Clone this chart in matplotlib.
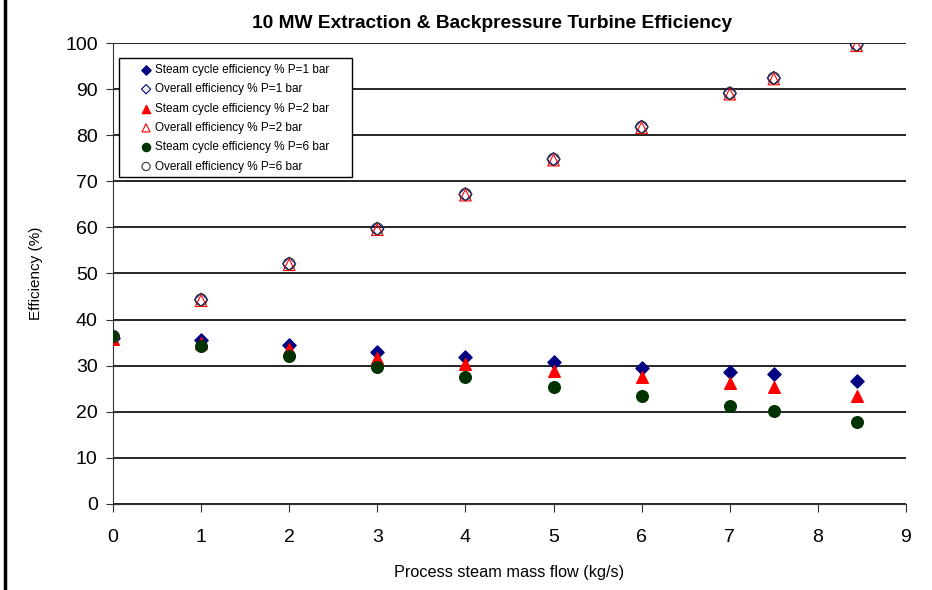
import numpy as np
import matplotlib.pyplot as plt
from matplotlib.lines import Line2D
from matplotlib.patches import Rectangle

plt.rcParams['font.family'] = ['Liberation Sans', 'DejaVu Sans']

flow = [0, 1, 2, 3, 4, 5, 6, 7, 7.5, 8.44]

steam_1bar = [36.0, 35.6, 34.4, 33.0, 31.9, 30.7, 29.6, 28.6, 28.1, 26.7]
steam_2bar = [35.8, 35.0, 33.6, 31.6, 30.3, 28.9, 27.5, 26.2, 25.3, 23.4]
steam_6bar = [36.4, 34.3, 32.1, 29.8, 27.6, 25.4, 23.4, 21.3, 20.2, 17.7]

overall_1bar = [36.0, 44.3, 52.1, 59.7, 67.2, 74.8, 81.8, 89.1, 92.4, 99.6]
overall_2bar = [35.8, 44.1, 51.9, 59.5, 67.0, 74.6, 81.6, 88.9, 92.2, 99.4]
overall_6bar = [36.4, 44.3, 52.1, 59.7, 67.2, 74.8, 81.8, 89.1, 92.4, 99.6]

fig = plt.figure(figsize=(9.32, 5.9), dpi=100)
ax = fig.add_axes([0.1212, 0.1458, 0.8509, 0.7813])

ax.scatter(flow, steam_1bar, marker='D', s=45, color='#000080', label='Steam cycle efficiency % P=1 bar', zorder=3)
ax.scatter(flow, overall_1bar, marker='D', s=45, facecolor='none', edgecolor='#000080', linewidth=0.8,
           label='Overall efficiency % P=1 bar', zorder=3)
ax.scatter(flow, steam_2bar, marker='^', s=70, color='#ff0000', label='Steam cycle efficiency % P=2 bar', zorder=3)
ax.scatter(flow, overall_2bar, marker='^', s=70, facecolor='none', edgecolor='#ff0000', linewidth=0.8,
           label='Overall efficiency % P=2 bar', zorder=3)
ax.scatter(flow, steam_6bar, marker='o', s=70, color='#003300', label='Steam cycle efficiency % P=6 bar', zorder=3)
ax.scatter(flow, overall_6bar, marker='o', s=70, facecolor='none', edgecolor='#333333', linewidth=0.8,
           label='Overall efficiency % P=6 bar', zorder=3)

ax.set_xlim(0, 9)
ax.set_ylim(0, 100)
ax.set_xticks(range(0, 10))
ax.set_yticks(range(0, 101, 10))
ax.yaxis.grid(True, color='black', linewidth=1.2)
ax.set_axisbelow(True)
for s in ['top', 'right']:
    ax.spines[s].set_visible(False)
ax.spines['left'].set_color('#333333')
ax.spines['bottom'].set_color('#333333')
ax.tick_params(axis='both', labelsize=14, color='#333333', length=6, direction='out')
ax.tick_params(axis='y', direction='inout', length=10, pad=6)
ax.tick_params(axis='x', pad=12)

ax.set_xlabel('Process steam mass flow (kg/s)', fontsize=11.7, labelpad=14)
ax.set_ylabel('Efficiency (%)', fontsize=11, labelpad=16)
fig.text(492 / 932, 1 - 23 / 590, '10 MW Extraction & Backpressure Turbine Efficiency',
         fontsize=13.8, fontweight='bold', ha='center', va='center')

# legend frame drawn separately (wider on the right like the original)
ax.add_patch(Rectangle((0.0076, 0.7093), 0.2938, 0.2582, transform=ax.transAxes, facecolor='white',
                       edgecolor='black', linewidth=1.0, zorder=4))
leg = ax.legend(loc='upper left', bbox_to_anchor=(0.0358, 0.9545), fontsize=8.5, frameon=False,
                handletextpad=0.35, borderpad=0, labelspacing=0.62, handlelength=0.8,
                scatterpoints=1, markerscale=0.7, borderaxespad=0)
leg.set_zorder(5)

fig.add_artist(Line2D([0.0055, 0.0055], [0, 1], color='black', linewidth=2.5, transform=fig.transFigure))

fig.savefig('out.png', dpi=100)
